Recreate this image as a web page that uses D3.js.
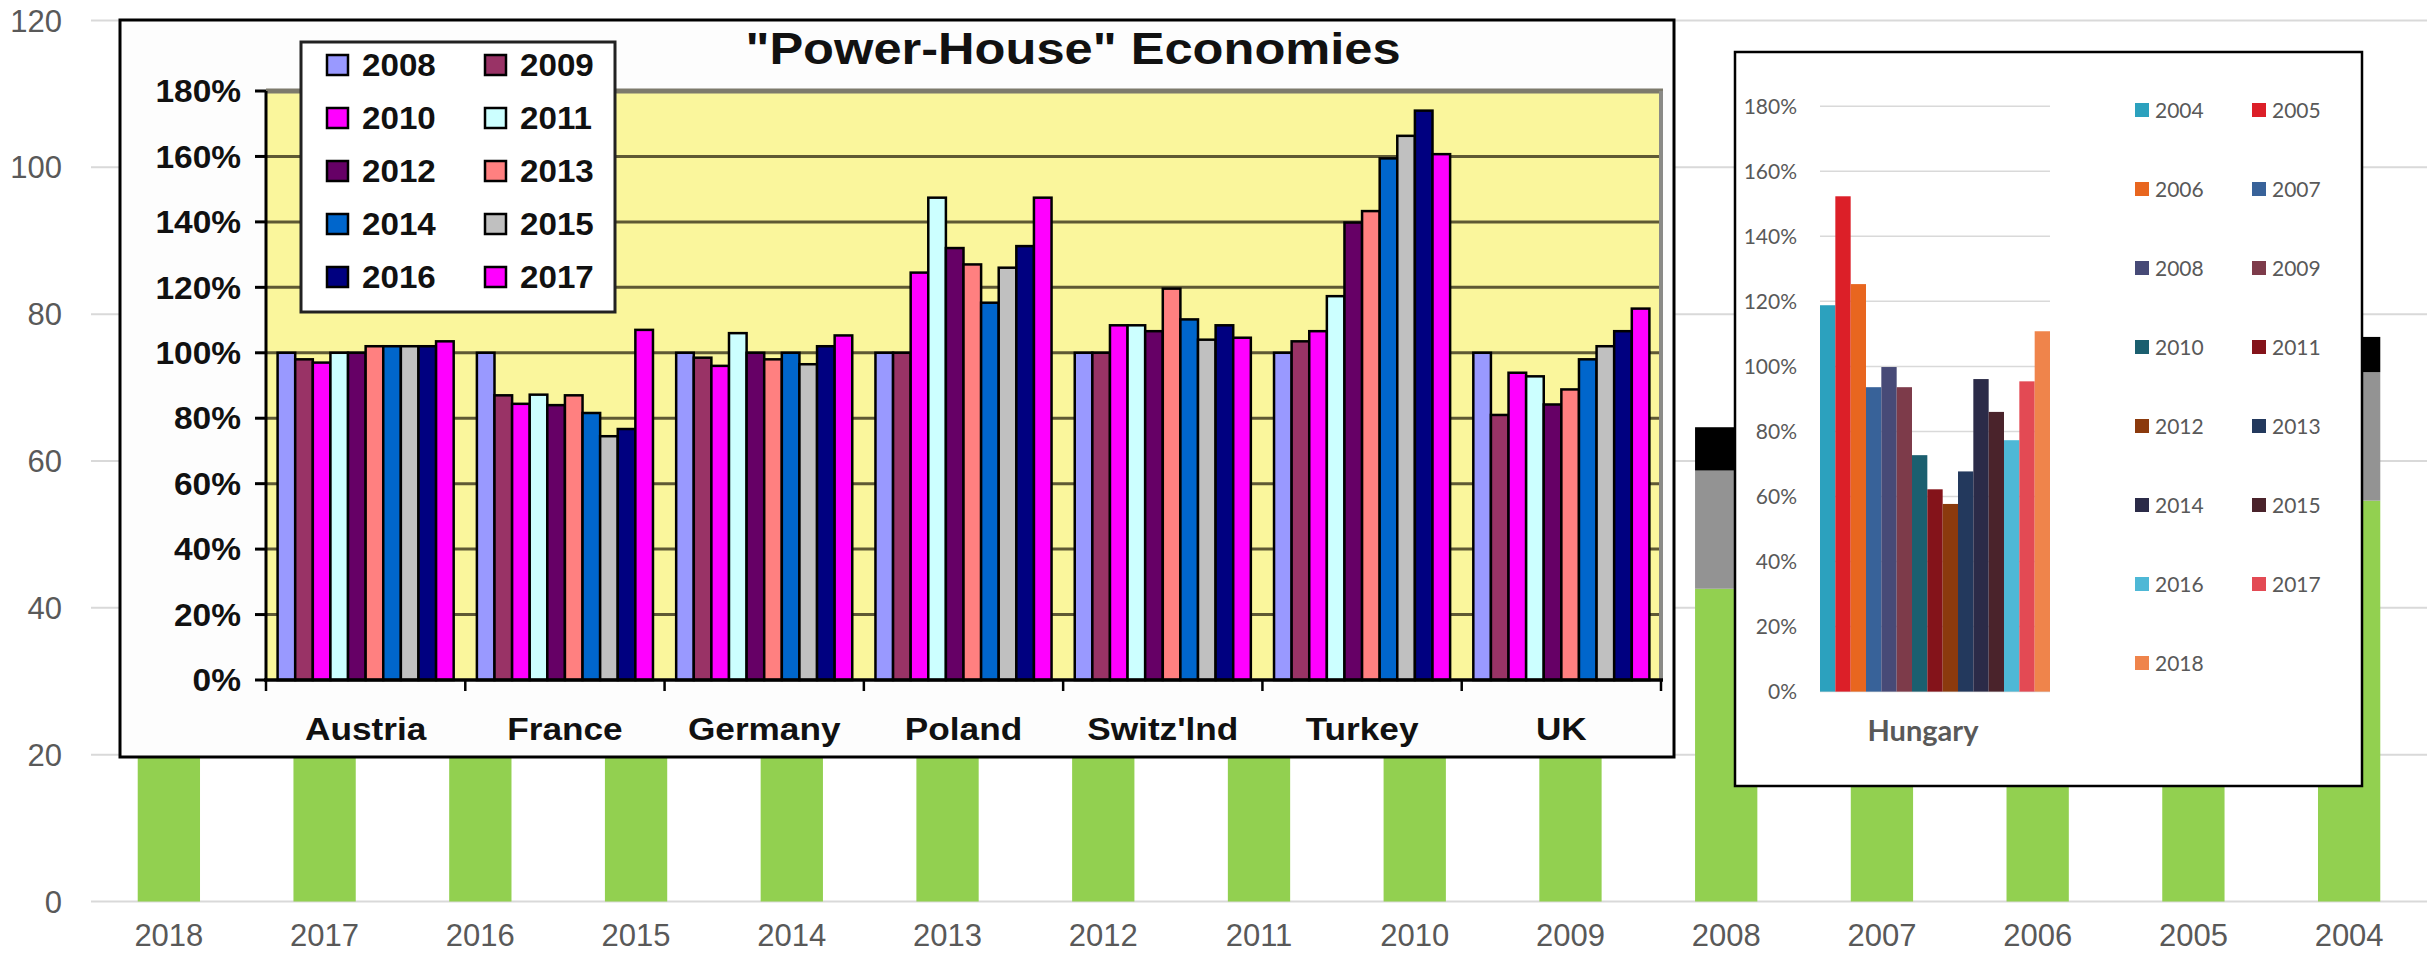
<!DOCTYPE html>
<html>
<head>
<meta charset="utf-8">
<script src="https://cdn.jsdelivr.net/npm/d3@7"></script>
<style>
  body { margin: 0; background: #fff; }
  svg { display: block; }
</style>
</head>
<body>
<svg id="chart" width="2432" height="955"></svg>
<script>
// ---------- Background: stacked yearly columns ----------
const years = ["2018","2017","2016","2015","2014","2013","2012","2011","2010","2009","2008","2007","2006","2005","2004"];
const greenVals = [48, 50, 47, 45, 46, 49, 51, 52, 53, 50, 42.6, 47, 49, 52, 54.6];
const grayVals  = [16, 15, 17, 18, 16, 15, 14, 15, 16, 17, 16.1, 16, 17, 17, 17.5];
const blackVals = [6, 6, 5, 6, 6, 5, 6, 6, 5, 6, 5.9, 6, 6, 5, 4.8];
const yTicks = [0, 20, 40, 60, 80, 100, 120];

// ---------- "Power-House" Economies ----------
const countries = ["Austria", "France", "Germany", "Poland", "Switz'lnd", "Turkey", "UK"];
const phYears = ["2008","2009","2010","2011","2012","2013","2014","2015","2016","2017"];
const phColors = ["#9999FF","#993366","#FF00FF","#CCFFFF","#660066","#FF8080","#0066CC","#C0C0C0","#000080","#FF00FF"];
const austria = [100, 98, 97, 100, 100, 102, 102, 102, 102, 103.5];
const france  = [100, 87, 84.4, 87.2, 84, 87, 81.6, 74.5, 76.7, 107];
const germany = [100, 98.5, 96, 106, 100, 98, 100, 96.5, 102, 105.3];
const poland  = [100, 100, 124.5, 147.4, 132, 127, 115.3, 126, 132.6, 147.4];
const switz   = [100, 100, 108.4, 108.4, 106.6, 119.6, 110.2, 104, 108.4, 104.6];
const turkey  = [100, 103.5, 106.6, 117.3, 139.8, 143.3, 159.4, 166.3, 174, 160.7];
const uk      = [100, 81, 93.9, 92.8, 84.2, 88.8, 98, 102, 106.6, 113.5];
const phTicks = [0, 20, 40, 60, 80, 100, 120, 140, 160, 180];

// ---------- Hungary ----------
const huYears = ["2004","2005","2006","2007","2008","2009","2010","2011","2012","2013","2014","2015","2016","2017","2018"];
const huValues = [118.8, 152.3, 125.3, 93.6, 99.8, 93.6, 72.7, 62.2, 57.7, 67.7, 96.1, 86, 77.3, 95.4, 110.8];
const huColors = ["#2CA1BE","#DC1F28","#E8661F","#386299","#474A77","#7D3B4A","#1B5F6F","#84131A","#8B3A0D","#23395D","#2B2B48","#4A232B","#4EB8D6","#E34A54","#EF844B"];
const huTicks = [0, 20, 40, 60, 80, 100, 120, 140, 160, 180];

const svg = d3.select("#chart");

// ================= Background chart =================
const bg = svg.append("g");
const bx = d3.scaleBand().domain(years).range([91, 2427]).paddingInner(0.6).paddingOuter(0.3);
const by = d3.scaleLinear().domain([0, 120]).range([901.5, 20.5]);

bg.selectAll("line.grid").data(yTicks).join("line")
  .attr("x1", 91).attr("x2", 2427)
  .attr("y1", d => by(d)).attr("y2", d => by(d))
  .attr("stroke", "#D9D9D9").attr("stroke-width", 2);

bg.selectAll("text.ylab").data(yTicks).join("text")
  .attr("x", 62).attr("y", d => by(d)).attr("dy", "0.36em")
  .attr("text-anchor", "end")
  .attr("font-family", "'Liberation Sans', Arial, sans-serif")
  .attr("font-size", 31).attr("fill", "#595959")
  .text(d => d);

bg.selectAll("text.xlab").data(years).join("text")
  .attr("x", d => bx(d) + bx.bandwidth() / 2).attr("y", 946)
  .attr("text-anchor", "middle")
  .attr("font-family", "'Liberation Sans', Arial, sans-serif")
  .attr("font-size", 31).attr("fill", "#595959")
  .text(d => d);

const stackRows = years.map((y, i) => ({ year: y, green: greenVals[i], gray: grayVals[i], black: blackVals[i] }));
const stacked = d3.stack().keys(["green", "gray", "black"])(stackRows);
const stackColors = { green: "#92D050", gray: "#939393", black: "#000000" };
bg.selectAll("g.layer").data(stacked).join("g")
  .attr("fill", d => stackColors[d.key])
  .selectAll("rect").data(d => d).join("rect")
  .attr("x", d => bx(d.data.year)).attr("width", bx.bandwidth())
  .attr("y", d => by(d[1])).attr("height", d => by(d[0]) - by(d[1]));

// ================= "Power-House" Economies panel =================
const ph = svg.append("g");
const phFont = "'Liberation Sans', Arial, sans-serif";
ph.append("rect").attr("x", 120).attr("y", 20).attr("width", 1554).attr("height", 737)
  .attr("fill", "#fdfdfd").attr("stroke", "#000").attr("stroke-width", 3);

ph.append("text")
  .attr("transform", "translate(1073,64) scale(1.15,1)")
  .attr("text-anchor", "middle").attr("font-family", phFont)
  .attr("font-weight", "bold").attr("font-size", 44).attr("fill", "#111")
  .text("\"Power-House\" Economies");

const px0 = d3.scaleBand().domain(countries).range([266, 1661]);
const px1 = d3.scaleBand().domain(phYears).range([11.6, px0.bandwidth() - 11.6]);
const py = d3.scaleLinear().domain([0, 180]).range([680, 91]);

ph.append("rect").attr("x", 266).attr("y", py(180)).attr("width", 1661 - 266).attr("height", py(0) - py(180))
  .attr("fill", "#FAF69C");

ph.selectAll("line.pgrid").data(phTicks.filter(t => t > 0 && t < 180)).join("line")
  .attr("x1", 266).attr("x2", 1661)
  .attr("y1", d => py(d)).attr("y2", d => py(d))
  .attr("stroke", "#5E5934").attr("stroke-width", 3);
ph.append("line").attr("x1", 266).attr("x2", 1663).attr("y1", py(180)).attr("y2", py(180))
  .attr("stroke", "#7d7a6c").attr("stroke-width", 5);
ph.append("line").attr("x1", 1661).attr("x2", 1661).attr("y1", py(180)).attr("y2", py(0))
  .attr("stroke", "#8a8a86").attr("stroke-width", 4);

const phSeries = [austria, france, germany, poland, switz, turkey, uk];
const phGroups = ph.selectAll("g.country").data(countries).join("g")
  .attr("transform", d => `translate(${px0(d)},0)`);
phGroups.selectAll("rect").data((c, ci) => phYears.map((yr, yi) => ({ yr, yi, v: phSeries[ci][yi] }))).join("rect")
  .attr("x", d => px1(d.yr)).attr("width", px1.bandwidth())
  .attr("y", d => py(d.v)).attr("height", d => py(0) - py(d.v))
  .attr("fill", d => phColors[d.yi])
  .attr("stroke", "#000").attr("stroke-width", 2.5);

// axes
ph.append("line").attr("x1", 266).attr("x2", 266).attr("y1", py(180)).attr("y2", py(0))
  .attr("stroke", "#000").attr("stroke-width", 3);
ph.selectAll("line.ytick").data(phTicks).join("line")
  .attr("x1", 255).attr("x2", 266).attr("y1", d => py(d)).attr("y2", d => py(d))
  .attr("stroke", "#000").attr("stroke-width", 3);
ph.append("line").attr("x1", 264).attr("x2", 1663).attr("y1", py(0)).attr("y2", py(0))
  .attr("stroke", "#000").attr("stroke-width", 3.5);
const bounds = countries.map(c => px0(c)).concat([px0.range()[1]]);
ph.selectAll("line.xtick").data(bounds).join("line")
  .attr("x1", d => d).attr("x2", d => d).attr("y1", py(0)).attr("y2", py(0) + 11)
  .attr("stroke", "#000").attr("stroke-width", 2.5);

ph.selectAll("text.pylab").data(phTicks).join("text")
  .attr("transform", d => `translate(241,${py(d)}) scale(1.08,1)`)
  .attr("dy", "0.36em").attr("text-anchor", "end")
  .attr("font-family", phFont).attr("font-weight", "bold").attr("font-size", 31).attr("fill", "#111")
  .text(d => d + "%");

ph.selectAll("text.pxlab").data(countries).join("text")
  .attr("transform", d => `translate(${px0(d) + px0.bandwidth() / 2},740) scale(1.1,1)`)
  .attr("text-anchor", "middle")
  .attr("font-family", phFont).attr("font-weight", "bold").attr("font-size", 32).attr("fill", "#111")
  .text(d => d);

// legend
const phLeg = ph.append("g");
phLeg.append("rect").attr("x", 301).attr("y", 42).attr("width", 314).attr("height", 270)
  .attr("fill", "#fff").attr("stroke", "#222").attr("stroke-width", 3);
const legItems = phLeg.selectAll("g.item").data(phYears).join("g")
  .attr("transform", (d, i) => `translate(${i % 2 === 0 ? 327 : 485},${65 + Math.floor(i / 2) * 53})`);
legItems.append("rect").attr("x", 0).attr("y", -10).attr("width", 21).attr("height", 20)
  .attr("fill", (d, i) => phColors[i]).attr("stroke", "#000").attr("stroke-width", 2.5);
legItems.append("text")
  .attr("transform", "translate(35,0) scale(1.07,1)")
  .attr("dy", "0.36em")
  .attr("font-family", phFont).attr("font-weight", "bold").attr("font-size", 31).attr("fill", "#111")
  .text(d => d);

// ================= Hungary panel =================
const hu = svg.append("g");
const huFont = "Lato, 'Open Sans', sans-serif";
hu.append("rect").attr("x", 1735).attr("y", 52).attr("width", 627).attr("height", 734)
  .attr("fill", "#fff").attr("stroke", "#000").attr("stroke-width", 2.5);

const hy = d3.scaleLinear().domain([0, 180]).range([691.6, 106.2]);
const hx0 = d3.scaleBand().domain(["Hungary"]).range([1796, 2050]);
const hx = d3.scaleBand().domain(huYears).range([1820, 2050]);

hu.selectAll("line.hgrid").data(huTicks).join("line")
  .attr("x1", 1820).attr("x2", 2050)
  .attr("y1", d => hy(d)).attr("y2", d => hy(d))
  .attr("stroke", "#D9D9D9").attr("stroke-width", 1.5);

hu.selectAll("rect.hbar").data(huValues).join("rect")
  .attr("x", (d, i) => hx(huYears[i])).attr("width", hx.bandwidth())
  .attr("y", d => hy(d)).attr("height", d => hy(0) - hy(d))
  .attr("fill", (d, i) => huColors[i]);

hu.selectAll("text.hylab").data(huTicks).join("text")
  .attr("x", 1797).attr("y", d => hy(d)).attr("dy", "0.35em")
  .attr("text-anchor", "end")
  .attr("font-family", huFont).attr("font-size", 21).attr("fill", "#595959")
  .text(d => d + "%");

hu.append("text")
  .attr("x", hx0("Hungary") + hx0.bandwidth() / 2).attr("y", 741)
  .attr("text-anchor", "middle")
  .attr("font-family", huFont).attr("font-weight", "bold").attr("font-size", 29).attr("fill", "#595959")
  .text("Hungary");

const huLeg = hu.selectAll("g.hleg").data(huYears).join("g")
  .attr("transform", (d, i) => `translate(${i % 2 === 0 ? 2135 : 2252},${110 + Math.floor(i / 2) * 79})`);
huLeg.append("rect").attr("x", 0).attr("y", -7).attr("width", 14).attr("height", 14)
  .attr("fill", (d, i) => huColors[i]);
huLeg.append("text").attr("x", 20).attr("dy", "0.36em")
  .attr("font-family", huFont).attr("font-size", 21).attr("fill", "#595959")
  .text(d => d);
</script>
</body>
</html>
